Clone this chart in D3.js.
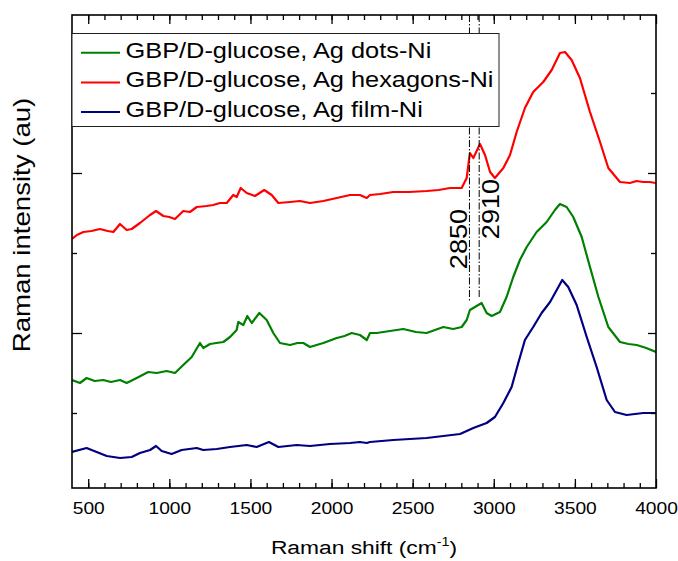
<html>
<head>
<style>
  body { margin: 0; background: #fff; }
  svg text { font-family: Arial, "Liberation Sans", sans-serif; fill: #000; }
  .tick line { stroke: #000; stroke-width: 1.3px; }
</style>
<script src="https://cdnjs.cloudflare.com/ajax/libs/d3/7.8.5/d3.min.js"></script>
</head>
<body>
<svg width="678" height="561"></svg>
<script>
// spectra: [Raman shift (cm-1), intensity (au)]
var dotsNi = [[400,113],[449,110],[490,115],[540,112],[593,113],[640,111],[696,113],[737,110],[799,115],[870,121],[922,120],
  [984,122],[1035,120],[1086,128],[1138,136],[1189,150],[1209,145],[1251,149],[1290,150],[1333,151],[1374,156],[1415,163],
  [1425,171],[1456,168],[1481,177],[1508,170],[1555,180],[1600,173],[1641,160],[1682,150],[1744,148],[1790,150],[1826,150],
  [1867,146],[1949,150],[2032,155],[2080,157],[2124,160],[2175,158],[2217,153],[2237,160],[2278,160],[2360,162],[2442,164],
  [2520,161],[2586,160],[2689,166],[2750,164],[2802,166],[2833,173],[2853,183],[2884,186],[2925,190],[2956,180],[2987,177],
  [3038,181],[3079,196],[3120,216],[3161,233],[3203,246],[3264,261],[3326,271],[3377,283],[3408,289],[3449,286],[3490,276],
  [3542,256],[3593,226],[3645,196],[3706,166],[3778,151],[3830,149],[3881,148],[3940,145],[4000,141]];

var hexagonsNi = [[400,254],[430,258],[470,261],[520,262],[572,264],[620,262],[655,261],[696,269],[737,263],[768,264],
  [819,270],[881,278],[918,282],[963,277],[1000,276],[1035,274],[1086,282],[1127,281],[1169,286],[1230,287],[1270,288],
  [1312,290],[1354,290],[1394,298],[1415,296],[1440,305],[1477,300],[1528,297],[1585,303],[1631,298],[1672,290],[1744,291],
  [1805,292],[1867,290],[1949,292],[2032,295],[2114,298],[2175,298],[2217,295],[2237,298],[2300,299],[2380,301],[2480,301],
  [2586,302],[2660,303],[2730,305],[2802,305],[2833,315],[2853,340],[2874,335],[2915,349],[2946,338],[2977,321],[3007,315],
  [3059,325],[3100,338],[3141,361],[3192,385],[3243,401],[3305,411],[3357,423],[3408,440],[3439,441],[3480,433],[3531,415],
  [3593,381],[3655,351],[3706,325],[3778,311],[3839,310],[3880,312],[3922,311],[3960,311],[4000,310]];

var filmNi = [[400,41],[490,45],[552,41],[614,37],[696,35],[768,36],[819,40],[881,43],[918,47],[953,42],[1014,39],
  [1076,43],[1169,45],[1209,43],[1292,44],[1374,46],[1477,48],[1538,46],[1614,51],[1672,46],[1785,48],[1867,47],[1990,49],
  [2114,50],[2175,51],[2217,50],[2237,51],[2380,53],[2586,55],[2792,59],[2874,65],[2956,70],[3007,76],[3059,90],[3110,106],
  [3151,130],[3192,153],[3243,166],[3295,180],[3347,191],[3388,203],[3422,213],[3459,206],[3511,188],[3573,156],[3634,126],
  [3696,93],[3747,81],[3819,78],[3922,80],[4000,80]];

var seriesNames = ["GBP/D-glucose, Ag dots-Ni", "GBP/D-glucose, Ag hexagons-Ni", "GBP/D-glucose, Ag film-Ni"];
var seriesColors = ["#008000", "#ff0000", "#000080"];
var xMajorTicks = [500, 1000, 1500, 2000, 2500, 3000, 3500, 4000];
var yMajorTicks = [160, 320];
var yMinorTicks = [80, 240, 400];
var markLines = [2850, 2910];
var markEnds = [191, 195];

var svg = d3.select("svg"),
    pLeft = 72, pRight = 656, pTop = 15, pBottom = 488,
    stretch = 1.18;

var x = d3.scaleLinear().domain([400, 4000]).range([pLeft, pRight]);
var y = d3.scaleLinear().domain([5, 478]).range([pBottom, pTop]);

svg.append("clipPath").attr("id", "plot")
   .append("rect").attr("x", pLeft).attr("y", pTop).attr("width", pRight - pLeft).attr("height", pBottom - pTop);

// curves
var line = d3.line().x(function(d) { return x(d[0]); }).y(function(d) { return y(d[1]); });
[dotsNi, hexagonsNi, filmNi].forEach(function(s, i) {
  svg.append("path")
     .datum(s)
     .attr("clip-path", "url(#plot)")
     .attr("fill", "none")
     .attr("stroke", seriesColors[i])
     .attr("stroke-width", 2.2)
     .attr("stroke-linejoin", "round")
     .attr("d", line);
});

// dash-dot markers
markLines.forEach(function(m, i) {
  svg.append("line")
     .attr("x1", x(m)).attr("x2", x(m))
     .attr("y1", pTop).attr("y2", y(markEnds[i]))
     .attr("stroke", "#000").attr("stroke-width", 1)
     .attr("stroke-dasharray", "7,2,1.5,2");
});

// axes, ticks inward
var xMinor = d3.range(500, 4000, 100);
function addAxis(axis, tx, ty) {
  var g = svg.append("g").attr("transform", "translate(" + tx + "," + ty + ")").call(axis);
  g.select(".domain").remove();
  return g;
}
var xb = addAxis(d3.axisBottom(x).tickValues(xMajorTicks).tickSize(-9).tickPadding(15).tickFormat(d3.format("d")), 0, pBottom);
addAxis(d3.axisBottom(x).tickValues(xMinor).tickSize(-5).tickFormat(""), 0, pBottom);
addAxis(d3.axisTop(x).tickValues(xMajorTicks).tickSize(-9).tickFormat(""), 0, pTop);
addAxis(d3.axisTop(x).tickValues(xMinor).tickSize(-5).tickFormat(""), 0, pTop);
addAxis(d3.axisLeft(y).tickValues(yMajorTicks).tickSize(-10).tickFormat(""), pLeft, 0);
addAxis(d3.axisLeft(y).tickValues(yMinorTicks).tickSize(-5).tickFormat(""), pLeft, 0);
addAxis(d3.axisRight(y).tickValues(yMajorTicks).tickSize(-8).tickFormat(""), pRight, 0);
addAxis(d3.axisRight(y).tickValues(yMinorTicks).tickSize(-5).tickFormat(""), pRight, 0);

xb.selectAll("text")
  .attr("font-size", "16px")
  .attr("font-family", "Arial, 'Liberation Sans', sans-serif")
  .attr("fill", "#000")
  .attr("transform", "scale(1.2,1)");

svg.append("rect")
   .attr("x", pLeft).attr("y", pTop)
   .attr("width", pRight - pLeft).attr("height", pBottom - pTop)
   .attr("fill", "none").attr("stroke", "#000").attr("stroke-width", 1.6);

// legend
svg.append("rect")
   .attr("x", pLeft).attr("y", 33.5)
   .attr("width", 499 - pLeft).attr("height", 93)
   .attr("fill", "#fff").attr("stroke", "#222").attr("stroke-width", 1);

seriesNames.forEach(function(name, i) {
  var base = 57.8 + i * 29.6;
  svg.append("line")
     .attr("x1", 81).attr("x2", 120)
     .attr("y1", base - 5).attr("y2", base - 5)
     .attr("stroke", seriesColors[i]).attr("stroke-width", 2);
  svg.append("text")
     .attr("transform", "translate(125.5," + base + ") scale(" + stretch + ",1)")
     .attr("font-size", "21.5px")
     .text(name);
});

// marker labels
svg.append("text")
   .attr("transform", "translate(467,239) rotate(-90) scale(" + stretch + ",1)")
   .attr("text-anchor", "middle").attr("font-size", "23px")
   .text("2850");
svg.append("text")
   .attr("transform", "translate(499,209) rotate(-90) scale(" + stretch + ",1)")
   .attr("text-anchor", "middle").attr("font-size", "23px")
   .text("2910");

// axis titles
var xt = svg.append("text")
   .attr("transform", "translate(364,554) scale(1.2,1)")
   .attr("text-anchor", "middle").attr("font-size", "19px");
xt.append("tspan").text("Raman shift (cm");
xt.append("tspan").attr("font-size", "12px").attr("dy", -8).text("-1");
xt.append("tspan").attr("dy", 8).text(")");

svg.append("text")
   .attr("transform", "translate(30,225) rotate(-90) scale(1.2,1)")
   .attr("text-anchor", "middle").attr("font-size", "23px")
   .text("Raman intensity (au)");
</script>
</body>
</html>
